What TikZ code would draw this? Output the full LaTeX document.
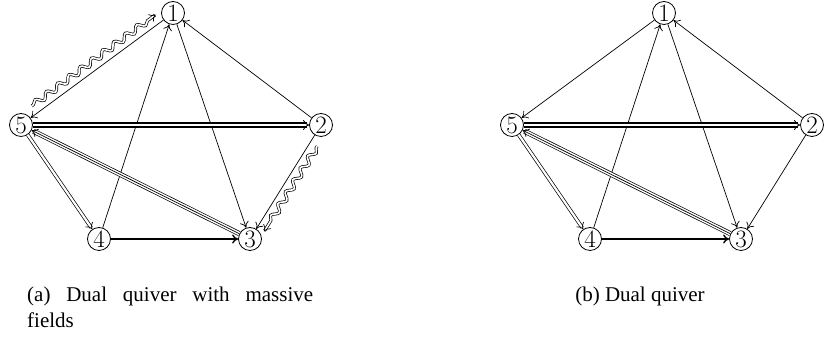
\documentclass[tikz,border=0pt]{standalone}
\usepackage{fontspec}
\newfontfamily\capfont{Liberation Serif}
\usetikzlibrary{arrows.meta, calc, decorations.pathmorphing}

\begin{document}
\begin{tikzpicture}[x=1pt, y=1pt,
  vertex/.style={circle, draw, line width=.8pt, minimum size=23pt, inner sep=0pt, font=\fontsize{25}{25}\selectfont},
  arrow/.style={-{To[length=6pt, width=9pt]}, line width=.7pt},
  heavy/.style={arrow, line width=1.4pt},
  dbl/.style={-{To[length=6pt, width=9pt, color=black]}, draw=white, line width=.7pt, preaction={draw=black, -, double, double distance=2.2pt, line width=.7pt, shorten >=2pt}},
  thickdbl/.style={-{To[length=6pt, width=10pt, color=black]}, draw=white, line width=.8pt, preaction={draw=black, -, double, double distance=2.4pt, line width=1.4pt, shorten >=2pt}},
  trpl/.style={arrow, preaction={draw, -, double, double distance=3.6pt, line width=.7pt, shorten >=2pt}},
  massive/.style={arrow, double, double distance=1.6pt, line width=.7pt, decorate, decoration={snake, amplitude=3pt, segment length=14pt, pre length=2pt, post length=6pt}},
  caption/.style={font=\capfont\fontsize{21}{26}\selectfont, inner sep=0pt}
]
  \useasboundingbox (0,0) rectangle (825,347);

  % (a) with the massive fields
  \node[vertex] (a1) at (173,334) {1};
  \node[vertex] (a2) at (321,222) {2};
  \node[vertex] (a3) at (250,108) {3};
  \node[vertex] (a4) at (99,108) {4};
  \node[vertex] (a5) at (21,222) {5};

  \draw[arrow] (a1) -- (a5);
  \draw[arrow] (a4) -- (a1);
  \draw[arrow] (a1) -- (a3);
  \draw[arrow] (a2) -- (a1);
  \draw[arrow] (a2) -- (a3);
  \draw[heavy] (a4) -- (a3);
  \draw[thickdbl] (a5) -- (a2);
  \draw[dbl] (a5) -- (a4);
  \draw[trpl] (a3) -- (a5);
  \draw[massive] ($(a5)!20pt!(a1)!9pt!90:(a1)$) -- ($(a1)!15pt!(a5)!9pt!-90:(a5)$);
  \draw[massive] ($(a2)!20pt!(a3)!8pt!90:(a3)$) -- ($(a3)!14pt!(a2)!8pt!-90:(a2)$);

  % (b) plain dual quiver
  \begin{scope}[xshift=491pt]
    \node[vertex] (b1) at (173,334) {1};
    \node[vertex] (b2) at (321,222) {2};
    \node[vertex] (b3) at (250,108) {3};
    \node[vertex] (b4) at (99,108) {4};
    \node[vertex] (b5) at (21,222) {5};

    \draw[arrow] (b1) -- (b5);
    \draw[arrow] (b4) -- (b1);
    \draw[arrow] (b1) -- (b3);
    \draw[arrow] (b2) -- (b1);
    \draw[arrow] (b2) -- (b3);
    \draw[heavy] (b4) -- (b3);
    \draw[thickdbl] (b5) -- (b2);
    \draw[dbl] (b5) -- (b4);
    \draw[trpl] (b3) -- (b5);
  \end{scope}

  \node[caption, text width=286pt, align=justify, anchor=base west] (capa) at (27,45) {(a) Dual quiver with massive fields};
  \node[caption, anchor=base] (capb) at (640,45) {(b) Dual quiver};
\end{tikzpicture}
\end{document}
